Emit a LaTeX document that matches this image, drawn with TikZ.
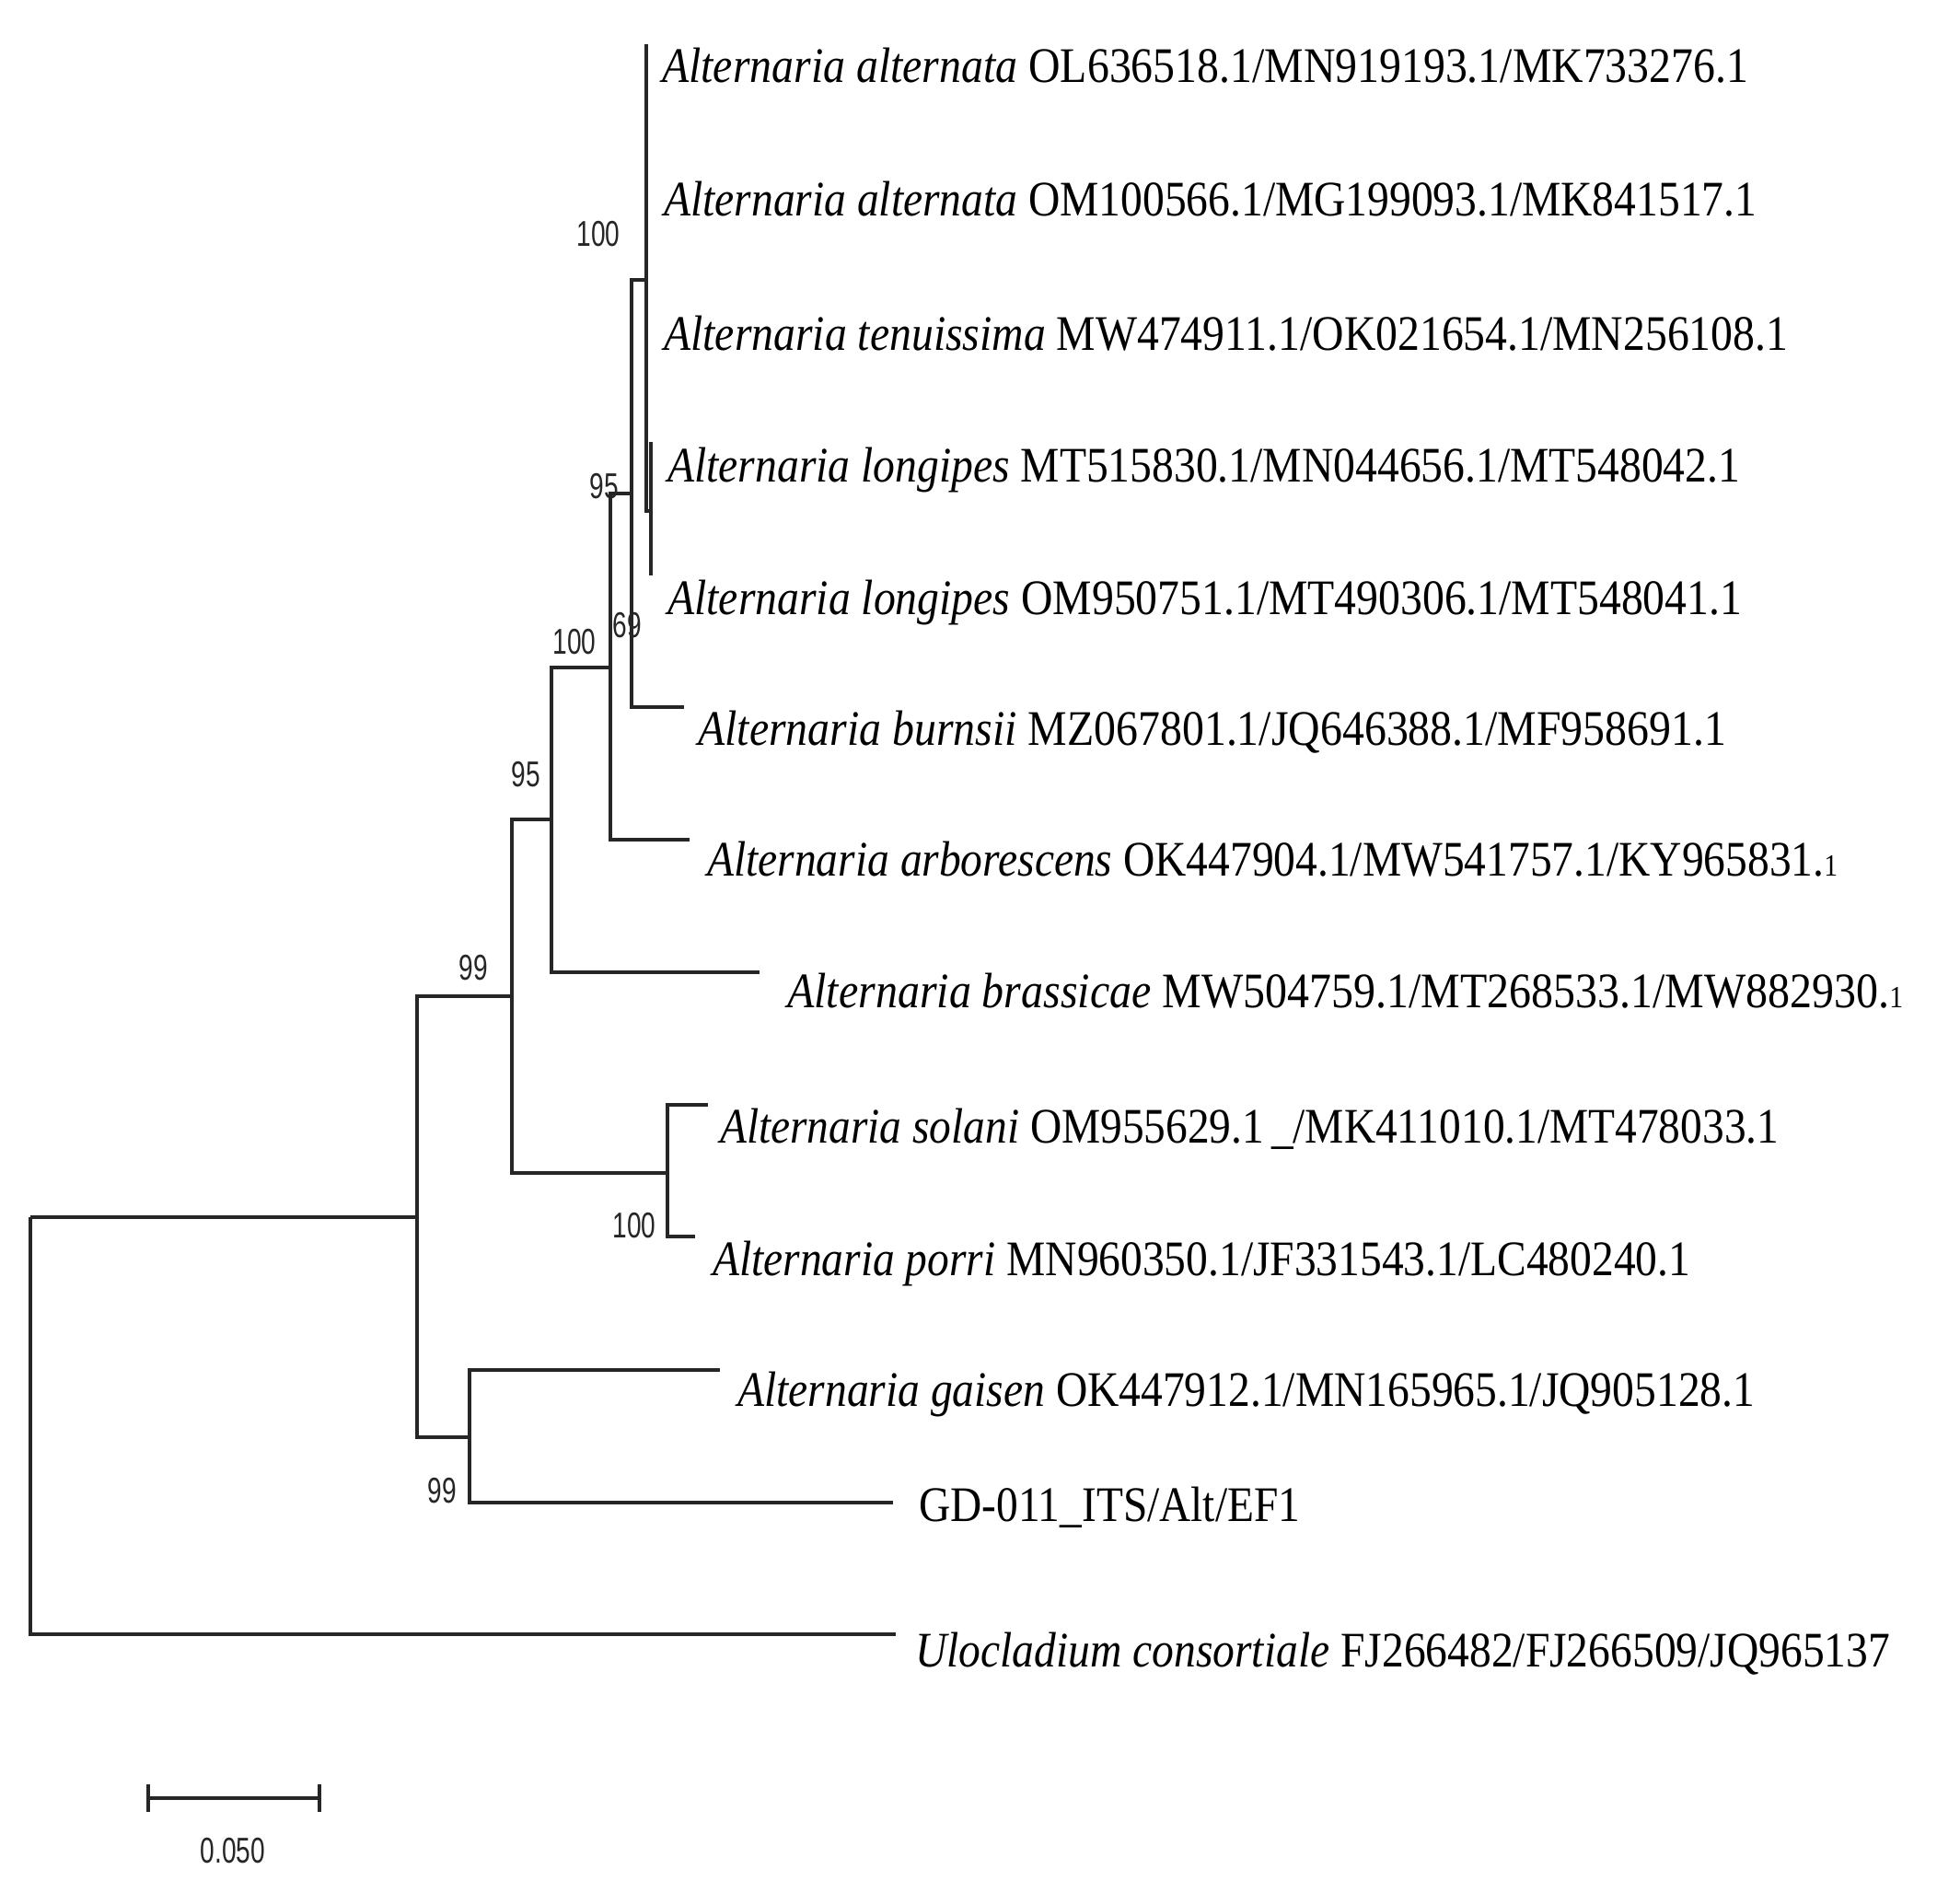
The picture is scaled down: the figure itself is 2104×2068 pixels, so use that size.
\documentclass[tikz,border=0pt]{standalone}
\usepackage{fontspec}
\setmainfont{Liberation Serif}
\setsansfont{Liberation Sans}
\usepackage{graphicx}
\newcommand{\taxon}[3]{\resizebox{#1pt}{\height}{\textit{#2}\ #3}}
\newcommand{\plaintaxon}[2]{\resizebox{#1pt}{\height}{#2}}
\newcommand{\bsv}[1]{\scalebox{0.72}[1]{\sffamily #1}}
\newcommand{\smallone}{\scalebox{0.62}{1}}
\begin{document}
\begin{tikzpicture}[x=1pt,y=-1pt,
  branch/.style={line width=3.2pt, draw=black!85},
  leaf/.style={anchor=base west, inner sep=0pt, font=\fontsize{54}{60}\selectfont},
  boot/.style={inner sep=0pt, font=\fontsize{39}{44}\selectfont, text=black!85}]
\useasboundingbox (0,0) rectangle (2104,2068);
\fill[white] (0,0) rectangle (2104,2068);

% internal nodes
\coordinate (R) at (33,1322);
\coordinate (E) at (453,1322);
\coordinate (F) at (510,1561);
\coordinate (D) at (556,1082);
\coordinate (SP) at (725,1274);
\coordinate (C) at (599,890);
\coordinate (B) at (663,725);
\coordinate (G) at (686,536);
\coordinate (A) at (702,304);
\coordinate (L) at (707,555);
% tips
\coordinate (t1) at (702,48);
\coordinate (t2) at (702,192);
\coordinate (t3) at (702,336);
\coordinate (t4) at (707,480);
\coordinate (t5) at (707,625);
\coordinate (t6) at (743,768);
\coordinate (t7) at (749,912);
\coordinate (t8) at (825,1056);
\coordinate (t9) at (769,1200);
\coordinate (t10) at (755,1343);
\coordinate (t11) at (782,1488);
\coordinate (t12) at (970,1632);
\coordinate (t13) at (973,1775);

% branches
\draw[branch] (R) |- (E);
\draw[branch] (R) |- (t13);
\draw[branch] (E) |- (D);
\draw[branch] (E) |- (F);
\draw[branch] (F) |- (t11);
\draw[branch] (F) |- (t12);
\draw[branch] (D) |- (C);
\draw[branch] (D) |- (SP);
\draw[branch] (SP) |- (t9);
\draw[branch] (SP) |- (t10);
\draw[branch] (C) |- (B);
\draw[branch] (C) |- (t8);
\draw[branch] (B) |- (G);
\draw[branch] (B) |- (t7);
\draw[branch] (G) |- (A);
\draw[branch] (G) |- (t6);
\draw[branch] (A) |- (t1);
\draw[branch] (A) |- (t2);
\draw[branch] (A) |- (t3);
\draw[branch] (A) |- (L);
\draw[branch] (L) |- (t4);
\draw[branch] (L) |- (t5);

% leaf labels
\node[leaf] (n1) at (719,90) {\taxon{1180}{Alternaria alternata}{OL636518.1/MN919193.1/MK733276.1}};
\node[leaf] (n2) at (721,235) {\taxon{1187}{Alternaria alternata}{OM100566.1/MG199093.1/MK841517.1}};
\node[leaf] (n3) at (721,380) {\taxon{1221}{Alternaria tenuissima}{MW474911.1/OK021654.1/MN256108.1}};
\node[leaf] (n4) at (725,523) {\taxon{1165}{Alternaria longipes}{MT515830.1/MN044656.1/MT548042.1}};
\node[leaf] (n5) at (725,667) {\taxon{1167}{Alternaria longipes}{OM950751.1/MT490306.1/MT548041.1}};
\node[leaf] (n6) at (758,809) {\taxon{1117}{Alternaria burnsii}{MZ067801.1/JQ646388.1/MF958691.1}};
\node[leaf] (n7) at (768,951) {\taxon{1228}{Alternaria arborescens}{OK447904.1/MW541757.1/KY965831.\smallone}};
\node[leaf] (n8) at (855,1094) {\taxon{1212}{Alternaria brassicae}{MW504759.1/MT268533.1/MW882930.\smallone}};
\node[leaf] (n9) at (782,1241) {\taxon{1150}{Alternaria solani}{OM955629.1\,\_/MK411010.1/MT478033.1}};
\node[leaf] (n10) at (774,1385) {\taxon{1062}{Alternaria porri}{MN960350.1/JF331543.1/LC480240.1}};
\node[leaf] (n11) at (801,1527) {\taxon{1105}{Alternaria gaisen}{OK447912.1/MN165965.1/JQ905128.1}};
\node[leaf] (n12) at (998,1652) {\plaintaxon{414}{GD-011\_ITS/Alt/EF1}};
\node[leaf] (n13) at (994,1810) {\taxon{1059}{Ulocladium consortiale}{FJ266482/FJ266509/JQ965137}};

% bootstrap values
\node[boot] (b1) at (650,254) {\bsv{100}};
\node[boot] (b2) at (656,528) {\bsv{95}};
\node[boot] (b3) at (681,679) {\bsv{69}};
\node[boot] (b4) at (624,697) {\bsv{100}};
\node[boot] (b5) at (571,841) {\bsv{95}};
\node[boot] (b6) at (514,1051) {\bsv{99}};
\node[boot] (b7) at (689,1331) {\bsv{100}};
\node[boot] (b8) at (480,1619) {\bsv{99}};

% scale bar
\coordinate (sbL) at (161,1953);
\coordinate (sbR) at (347,1953);
\draw[branch] (sbL) -- (sbR);
\draw[branch] ([yshift=-15pt]sbL) -- ([yshift=15pt]sbL);
\draw[branch] ([yshift=-15pt]sbR) -- ([yshift=15pt]sbR);
\node[boot] (sblab) at (253,2010) {\bsv{0.050}};
\end{tikzpicture}
\end{document}
